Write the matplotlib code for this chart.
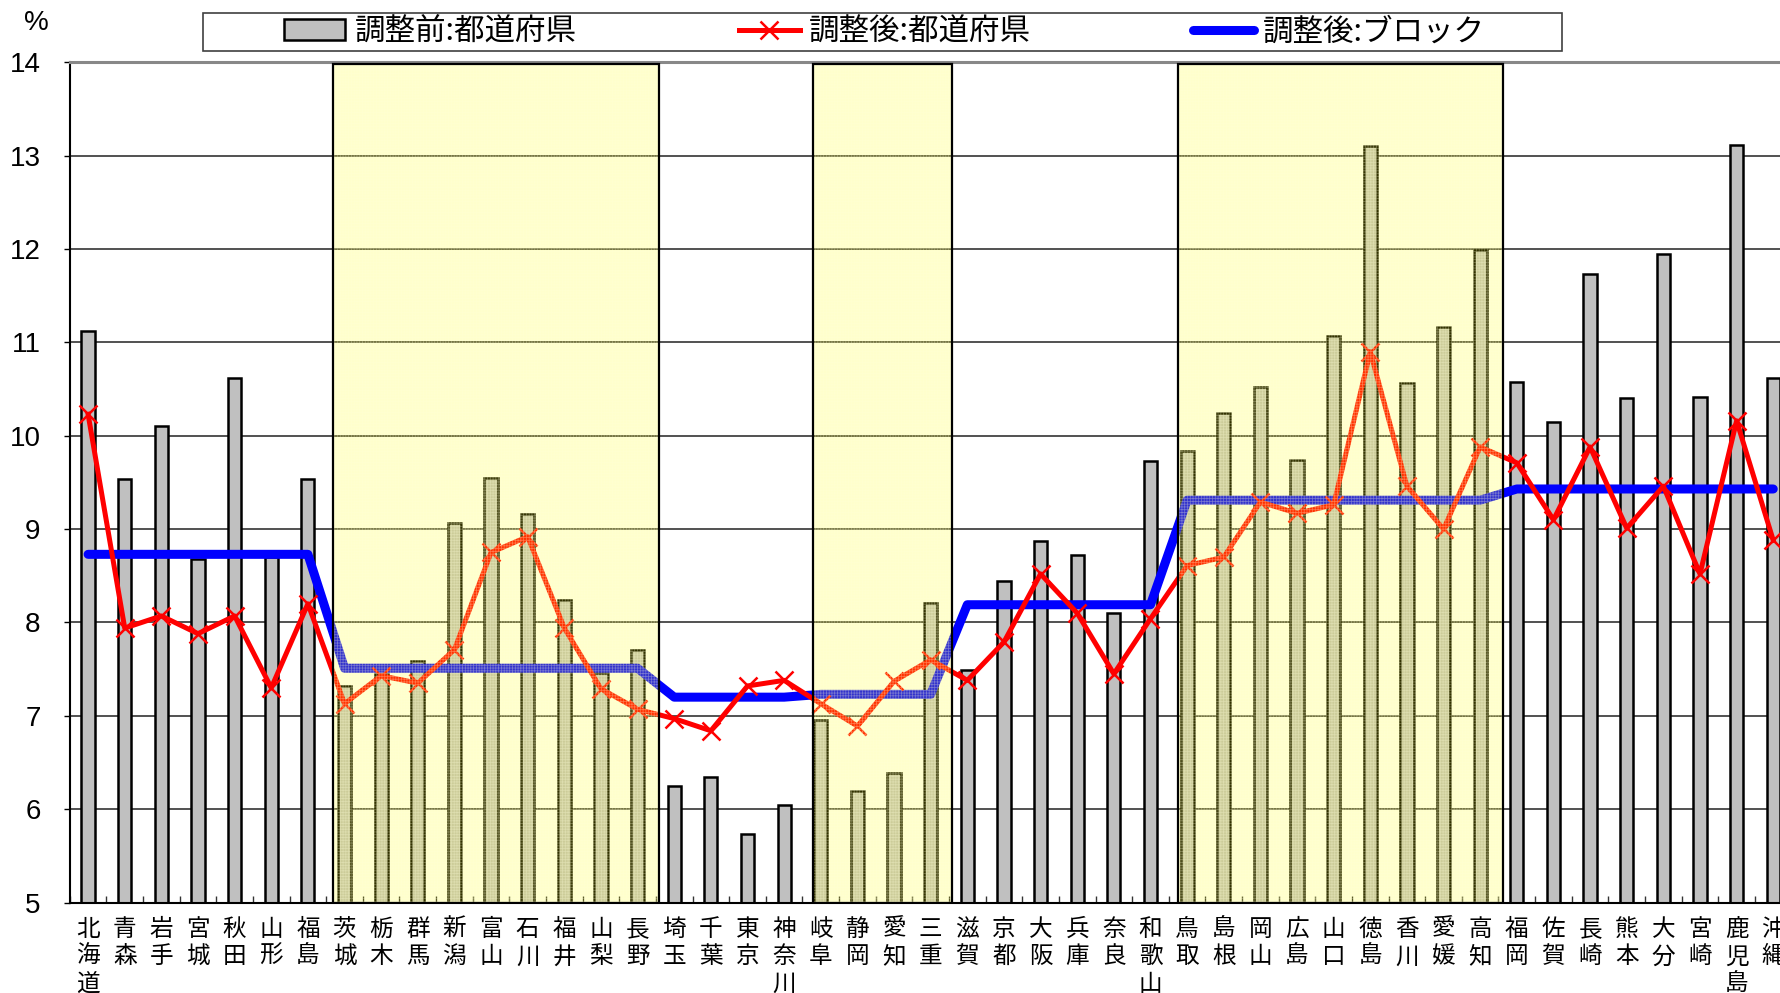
import matplotlib
matplotlib.use("Agg")
import matplotlib.pyplot as plt
from matplotlib.patches import Rectangle, Patch
from matplotlib.lines import Line2D
import numpy as np

plt.rcParams['font.family'] = ['Noto Sans CJK JP', 'DejaVu Sans']
plt.rcParams['hatch.linewidth'] = 0.5

prefectures = ["北海道", "青森", "岩手", "宮城", "秋田", "山形", "福島",
               "茨城", "栃木", "群馬", "新潟", "富山", "石川", "福井", "山梨", "長野",
               "埼玉", "千葉", "東京", "神奈川",
               "岐阜", "静岡", "愛知", "三重",
               "滋賀", "京都", "大阪", "兵庫", "奈良", "和歌山",
               "鳥取", "島根", "岡山", "広島", "山口", "徳島", "香川", "愛媛", "高知",
               "福岡", "佐賀", "長崎", "熊本", "大分", "宮崎", "鹿児島", "沖縄"]

before_pref = [11.12, 9.54, 10.11, 8.68, 10.62, 8.70, 9.54,
               7.32, 7.45, 7.59, 9.07, 9.55, 9.16, 8.24, 7.46, 7.70,
               6.25, 6.35, 5.73, 6.05,
               6.95, 6.19, 6.39, 8.21,
               7.49, 8.44, 8.87, 8.72, 8.10, 9.73,
               9.84, 10.24, 10.52, 9.74, 11.07, 13.10, 10.56, 11.16, 11.99,
               10.58, 10.15, 11.73, 10.40, 11.95, 10.41, 13.11, 10.62]

after_pref = [10.23, 7.94, 8.07, 7.88, 8.07, 7.30, 8.20,
              7.13, 7.43, 7.35, 7.71, 8.75, 8.92, 7.94, 7.29, 7.07,
              6.97, 6.84, 7.32, 7.38,
              7.13, 6.89, 7.37, 7.60,
              7.38, 7.79, 8.52, 8.10, 7.45, 8.04,
              8.61, 8.70, 9.29, 9.17, 9.26, 10.90, 9.46, 9.00, 9.88,
              9.71, 9.10, 9.88, 9.01, 9.46, 8.52, 10.16, 8.88]

block_values = [8.73, 7.51, 7.20, 7.23, 8.19, 9.31, 9.43]
block_sizes = [7, 9, 4, 4, 6, 9, 8]
after_block = [v for v, n in zip(block_values, block_sizes) for _ in range(n)]

# highlighted block spans (category index units)
highlight_spans = [(6.69, 15.58), (19.78, 23.57), (29.75, 38.61)]

yticks = list(range(5, 15))
legend_labels = ["調整前:都道府県", "調整後:都道府県", "調整後:ブロック"]

fig = plt.figure(figsize=(17.8, 9.93), dpi=100)
ax = fig.add_axes([0.0392, 0.0911, 0.9673, 0.8461])

x = np.arange(len(prefectures))
ax.bar(x, [v - 5 for v in before_pref], bottom=5, width=0.36, color='#C0C0C0',
       edgecolor='black', linewidth=1.8, zorder=2)
ax.plot(x, after_block, color='#0000FF', linewidth=6.5, solid_capstyle='round',
        solid_joinstyle='round', zorder=3)
ax.plot(x, after_pref, color='#FF0000', linewidth=3.6, marker='x', markersize=13,
        markeredgewidth=1.8, zorder=4)

for (x0, x1) in highlight_spans:
    ax.add_patch(Rectangle((x0, 5), x1 - x0, 13.98 - 5, facecolor='#FFFF00',
                           alpha=0.2, edgecolor='none', zorder=5))
    ax.add_patch(Rectangle((x0, 5), x1 - x0, 13.98 - 5, fill=False,
                           edgecolor=(1.0, 1.0, 0.85, 0.35), hatch='++++++',
                           linewidth=0, zorder=5))
    ax.add_patch(Rectangle((x0, 5), x1 - x0, 13.98 - 5, fill=False,
                           edgecolor='black', linewidth=1.6, zorder=6))

ax.set_xlim(-0.5, 46.5)
ax.set_ylim(5, 14)
ax.set_yticks(yticks)
ax.set_yticklabels([str(t) for t in yticks], fontsize=20, family='Liberation Sans')
ax.tick_params(axis='y', length=4, width=1, pad=17)
ax.yaxis.grid(True, color='#333333', linewidth=1.2, zorder=0)
ax.set_axisbelow(True)

ax.set_xticks(x)
ax.set_xticklabels(['\n'.join(p) for p in prefectures], fontsize=17, linespacing=1.25,
                   va='top')
ax.tick_params(axis='x', length=0, pad=11)
ax.set_xticks(np.arange(-0.5, 46.6, 1), minor=True)
ax.tick_params(axis='x', which='minor', direction='in', length=5, width=1, color='#333333')

for s in ['left', 'bottom']:
    ax.spines[s].set_color('black')
    ax.spines[s].set_linewidth(1.5)
ax.spines['top'].set_color('#888888')
ax.spines['top'].set_linewidth(2.2)
ax.spines['right'].set_visible(False)

fig.text(0.0202, 0.977, '%', fontsize=20, family='Liberation Sans', ha='center', va='center')

handles = [Patch(facecolor='#C0C0C0', edgecolor='black', linewidth=1.8),
           Line2D([], [], color='#FF0000', linewidth=3.6, marker='x', markersize=13,
                  markeredgewidth=1.8),
           Line2D([], [], color='#0000FF', linewidth=6.5, solid_capstyle='round')]
fig.legend(handles, legend_labels, loc='center', bbox_to_anchor=(0.497, 0.968),
           ncol=3, frameon=False, fontsize=22, handlelength=2.0, handletextpad=0.3,
           columnspacing=5.3)
fig.patches.append(Rectangle((0.1141, 0.9486), 0.7635, 0.0388, transform=fig.transFigure,
                             fill=False, edgecolor='#404040', linewidth=1.2))

fig.savefig('out.png', dpi=100)
